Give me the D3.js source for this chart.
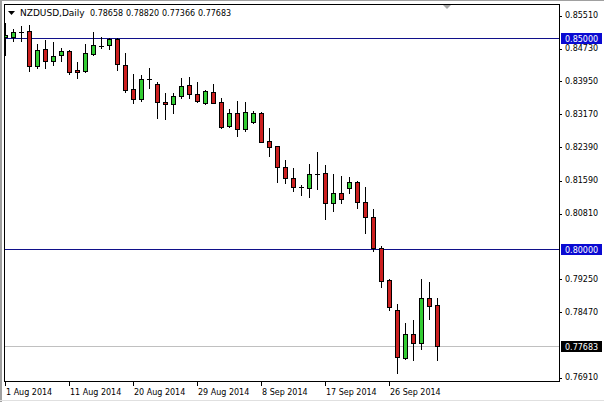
<!DOCTYPE html>
<html>
<head>
<meta charset="utf-8">
<script src="https://cdn.jsdelivr.net/npm/d3@7.9.0/dist/d3.min.js"></script>
<style>
  body { margin: 0; background: #fff; }
  svg { display: block; }
  text { font-family: "DejaVu Sans", sans-serif; }
</style>
</head>
<body>
<svg id="chart" width="604" height="402"></svg>
<script>
// daily bars, broker has Sunday candles
const dates = [
  '2014.08.01','2014.08.03','2014.08.04','2014.08.05','2014.08.06','2014.08.07','2014.08.08',
  '2014.08.10','2014.08.11','2014.08.12','2014.08.13','2014.08.14','2014.08.15',
  '2014.08.17','2014.08.18','2014.08.19','2014.08.20','2014.08.21','2014.08.22',
  '2014.08.24','2014.08.25','2014.08.26','2014.08.27','2014.08.28','2014.08.29',
  '2014.08.31','2014.09.01','2014.09.02','2014.09.03','2014.09.04','2014.09.05',
  '2014.09.07','2014.09.08','2014.09.09','2014.09.10','2014.09.11','2014.09.12',
  '2014.09.14','2014.09.15','2014.09.16','2014.09.17','2014.09.18','2014.09.19',
  '2014.09.21','2014.09.22','2014.09.23','2014.09.24','2014.09.25','2014.09.26',
  '2014.09.28','2014.09.29','2014.09.30','2014.10.01','2014.10.02','2014.10.03'
];

const open = [
  0.85024, 0.85024, 0.85140, 0.85166, 0.84335, 0.84746, 0.84454, 0.84596, 0.84691, 0.84247,
  0.84230, 0.84634, 0.84824, 0.84848, 0.84990, 0.84373, 0.83795, 0.83565, 0.84033, 0.83907,
  0.83479, 0.83432, 0.83629, 0.83883, 0.83669, 0.83456, 0.83731, 0.83479, 0.82916, 0.83218,
  0.82838, 0.83004, 0.83232, 0.82560, 0.82441, 0.81935, 0.81674, 0.81455, 0.81436, 0.81783,
  0.81792, 0.81080, 0.81317, 0.81436, 0.81578, 0.81103, 0.80761, 0.80010, 0.79257, 0.78544,
  0.77411, 0.77974, 0.77753, 0.78822, 0.78658
];
const high = [
  0.85364, 0.85221, 0.85285, 0.85323, 0.84865, 0.84952, 0.84912, 0.84770, 0.84729, 0.84430,
  0.84865, 0.85150, 0.85031, 0.85007, 0.85007, 0.84651, 0.84152, 0.84135, 0.84287, 0.83955,
  0.83693, 0.83693, 0.84050, 0.84073, 0.83969, 0.83772, 0.83907, 0.83574, 0.83313, 0.83510,
  0.83479, 0.83280, 0.83242, 0.82862, 0.82441, 0.82108, 0.81911, 0.81514, 0.82013, 0.82291,
  0.81990, 0.81769, 0.81728, 0.81697, 0.81617, 0.81460, 0.80937, 0.80072, 0.79274, 0.78687,
  0.78243, 0.78307, 0.79281, 0.79217, 0.78820
];
const low = [
  0.84610, 0.84943, 0.84943, 0.84230, 0.84294, 0.84294, 0.84373, 0.84468, 0.84152, 0.84057,
  0.84199, 0.84610, 0.84770, 0.84753, 0.84254, 0.83724, 0.83463, 0.83517, 0.83812, 0.83099,
  0.83075, 0.83218, 0.83574, 0.83574, 0.83479, 0.83432, 0.83456, 0.82862, 0.82900, 0.82679,
  0.82805, 0.82995, 0.82529, 0.82203, 0.81593, 0.81555, 0.81379, 0.81277, 0.81222, 0.81419,
  0.80707, 0.80897, 0.81094, 0.81331, 0.80975, 0.80381, 0.79946, 0.79098, 0.78544, 0.77055,
  0.77380, 0.77356, 0.77618, 0.78330, 0.77366
];
const close = [
  0.85086, 0.85143, 0.85140, 0.84349, 0.84729, 0.84454, 0.84572, 0.84691, 0.84192, 0.84192,
  0.84651, 0.84834, 0.84810, 0.84990, 0.84396, 0.83779, 0.83565, 0.84033, 0.84020, 0.83494,
  0.83432, 0.83629, 0.83867, 0.83669, 0.83517, 0.83748, 0.83470, 0.82900, 0.83218, 0.82838,
  0.83242, 0.83218, 0.82543, 0.82424, 0.81935, 0.81674, 0.81460, 0.81450, 0.81776, 0.81776,
  0.81080, 0.81317, 0.81175, 0.81578, 0.81103, 0.80761, 0.80025, 0.79241, 0.78609, 0.77435,
  0.77974, 0.77753, 0.78822, 0.78646, 0.77683
];

const priceTicks = [0.85510, 0.84730, 0.83950, 0.83170, 0.82390, 0.81590, 0.80810, 0.79250, 0.78470, 0.76910];
const levelLines = [0.85000, 0.80000];
const lastPrice = 0.77683;

const dateTicks = ['2014.08.01','2014.08.11','2014.08.20','2014.08.29','2014.09.08','2014.09.17','2014.09.26'];
const dateLabels = ['1 Aug 2014','11 Aug 2014','20 Aug 2014','29 Aug 2014','8 Sep 2014','17 Sep 2014','26 Sep 2014'];

const symbol = 'NZDUSD,Daily';
const ohlcText = ['0.78658', '0.78820', '0.77366', '0.77683'];

const bars = dates.map((d, i) => ({ date: d, o: open[i], h: high[i], l: low[i], c: close[i] }));

const svg = d3.select('#chart');
const plot = { left: 4, top: 4, right: 559, bottom: 382 };

const x = d3.scalePoint().domain(dates).range([5, 437]);
const y = d3.scaleLinear().domain([0.76832, 0.85815]).range([plot.bottom, plot.top]);
const py = (v) => Math.round(y(v)) + 0.5;

// window frame
svg.append('rect').attr('x', 0).attr('y', 0).attr('width', 604).attr('height', 402).attr('fill', '#fff');
svg.append('rect').attr('x', 0).attr('y', 0).attr('width', 2).attr('height', 402).attr('fill', '#a0a0a0');
svg.append('line').attr('x1', 0).attr('x2', 604).attr('y1', 0.5).attr('y2', 0.5).attr('stroke', '#a0a0a0');
svg.append('line').attr('x1', 0).attr('x2', 604).attr('y1', 400.5).attr('y2', 400.5).attr('stroke', '#e0e0e0');

svg.append('clipPath').attr('id', 'clip')
  .append('rect').attr('x', plot.left + 1).attr('y', plot.top + 1)
  .attr('width', plot.right - plot.left - 1).attr('height', plot.bottom - plot.top - 1);

const g = svg.append('g').attr('clip-path', 'url(#clip)');

// current price line
g.append('line')
  .attr('x1', plot.left).attr('x2', plot.right)
  .attr('y1', py(lastPrice)).attr('y2', py(lastPrice))
  .attr('stroke', '#c0c0c0');

// horizontal levels
g.selectAll('.level').data(levelLines).join('line')
  .attr('class', 'level')
  .attr('x1', plot.left).attr('x2', plot.right)
  .attr('y1', (d) => py(d)).attr('y2', (d) => py(d))
  .attr('stroke', '#10108a');

// candles
const candle = g.selectAll('.candle').data(bars).join('g').attr('class', 'candle');

candle.append('line')
  .attr('x1', (d) => x(d.date) + 0.5).attr('x2', (d) => x(d.date) + 0.5)
  .attr('y1', (d) => Math.round(y(d.h))).attr('y2', (d) => Math.round(y(d.l)) + 1)
  .attr('stroke', '#000');

candle.each(function (d) {
  const c = x(d.date);
  const top = Math.round(y(Math.max(d.o, d.c)));
  const bot = Math.round(y(Math.min(d.o, d.c)));
  const sel = d3.select(this);
  if (bot - top < 2) {
    // doji: flat dash
    sel.append('line')
      .attr('x1', c - 2).attr('x2', c + 3)
      .attr('y1', top + 0.5).attr('y2', top + 0.5)
      .attr('stroke', '#000');
  } else {
    sel.append('rect')
      .attr('x', c - 1.5).attr('y', top + 0.5)
      .attr('width', 4).attr('height', bot - top)
      .attr('fill', d.c > d.o ? '#33cc33' : '#cc1f1f')
      .attr('stroke', '#000');
  }
});

// plot border
svg.append('rect')
  .attr('x', plot.left + 0.5).attr('y', plot.top + 0.5)
  .attr('width', plot.right - plot.left).attr('height', plot.bottom - plot.top - 1)
  .attr('fill', 'none').attr('stroke', '#000');

// price axis
svg.selectAll('.ptick').data(priceTicks).join('line')
  .attr('class', 'ptick')
  .attr('x1', plot.right).attr('x2', plot.right + 3)
  .attr('y1', (d) => py(d) - 1).attr('y2', (d) => py(d) - 1)
  .attr('stroke', '#000');

svg.selectAll('.plabel').data(priceTicks).join('text')
  .attr('class', 'plabel')
  .attr('x', 565).attr('y', (d) => y(d) + 1.5)
  .attr('font-size', 8).attr('fill', '#000')
  .text((d) => d.toFixed(5));

// highlighted labels for the levels and the last price
const boxes = levelLines.map((v) => ({ v, fill: '#0a0ad2' })).concat([{ v: lastPrice, fill: '#000' }]);
svg.selectAll('.pbox').data(boxes).join('rect')
  .attr('class', 'pbox')
  .attr('x', 561).attr('y', (d) => Math.round(y(d.v)) - 5)
  .attr('width', 41).attr('height', 11)
  .attr('fill', (d) => d.fill);
svg.selectAll('.pboxtext').data(boxes).join('text')
  .attr('class', 'pboxtext')
  .attr('x', 565).attr('y', (d) => Math.round(y(d.v)) + 3.5)
  .attr('font-size', 8).attr('fill', '#fff')
  .text((d) => d.v.toFixed(5));

// time axis
svg.selectAll('.ttick').data(dateTicks).join('line')
  .attr('class', 'ttick')
  .attr('x1', (d) => x(d) + 0.5).attr('x2', (d) => x(d) + 0.5)
  .attr('y1', plot.bottom).attr('y2', plot.bottom + 4)
  .attr('stroke', '#000');

svg.selectAll('.tlabel').data(dateTicks).join('text')
  .attr('class', 'tlabel')
  .attr('x', (d) => x(d) + 1).attr('y', 395)
  .attr('font-size', 8).attr('fill', '#000')
  .text((d, i) => dateLabels[i]);

// header
svg.append('path').attr('d', 'M8,11 L15,11 L11.5,15 Z').attr('fill', '#000');
svg.append('text').attr('x', 20).attr('y', 16).attr('font-size', 9).text(symbol);
svg.selectAll('.ohlc').data(ohlcText).join('text')
  .attr('class', 'ohlc')
  .attr('x', (d, i) => 90 + i * 36).attr('y', 16)
  .attr('font-size', 8)
  .text((d) => d);

// chart shift marker
svg.append('path').attr('d', 'M443,5 L451,5 L447,9 Z').attr('fill', '#a8a8a8');
</script>
</body>
</html>
